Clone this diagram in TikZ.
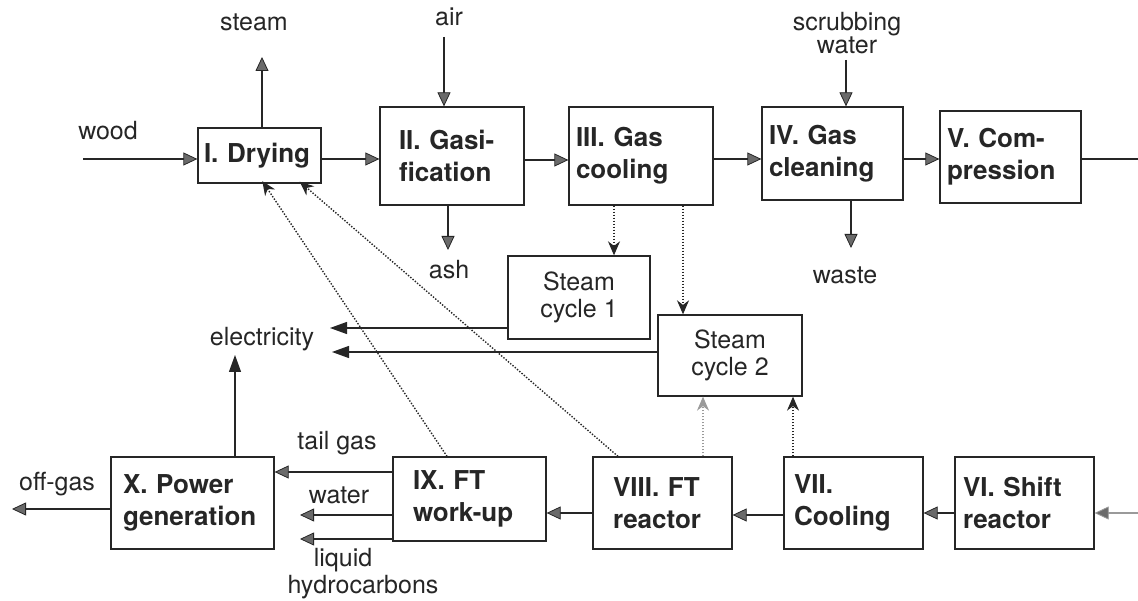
\documentclass[tikz,border=0pt]{standalone}
\usepackage{fontspec}
\setmainfont{TeX Gyre Heros}
\usetikzlibrary{arrows.meta}
\definecolor{ink}{HTML}{262626}
\definecolor{tipgray}{HTML}{6A6A6A}
\definecolor{lightline}{HTML}{9A9A9A}
\newcommand\bxf{\fontsize{26}{32}\selectfont\bfseries}
\newcommand\lbf{\fontsize{25}{27}\selectfont}
\begin{document}
\begin{tikzpicture}[x=1pt,y=-1pt,
 box/.style={draw=ink, line width=1.3pt, inner xsep=0pt, inner ysep=2pt, align=left, font=\bxf, text=ink},
 sc/.style={draw=ink, line width=1.3pt, align=center, font=\lbf, text=ink},
 lbl/.style={font=\lbf, text=ink, inner sep=0pt, align=center},
 flow/.style={draw=ink, line width=1.3pt, -{Triangle[length=14pt,width=13pt,fill=tipgray,line width=0.8pt]}},
 plain/.style={draw=ink, line width=1.3pt},
 elec/.style={draw=ink, line width=1.3pt, -{Triangle[length=17pt,width=12pt]}},
 heat/.style={draw=ink, line width=1.4pt, dash pattern=on 1.4pt off 1.6pt, -{Stealth[length=14pt,width=12pt]}},
]
\useasboundingbox (0,0) rectangle (1138,601);
\fill[white] (0,0) rectangle (1138,601);

% boxes
\node[box, minimum width=123pt, minimum height=55pt, text width=111pt] (dry) at (259.5,155.5) {I. Drying};
\node[box, minimum width=144pt, minimum height=98pt, text width=106pt] (gas) at (452,156) {II. Gasi-\\fication};
\node[box, minimum width=144pt, minimum height=98pt, text width=130pt] (cool) at (641,156) {III. Gas\\cooling};
\node[box, minimum width=141pt, minimum height=93pt, text width=127pt] (clean) at (832.5,153.5) {IV. Gas\\cleaning};
\node[box, minimum width=141pt, minimum height=92pt, text width=127pt] (comp) at (1010.5,157) {V. Com-\\pression};
\node[sc, minimum width=142pt, minimum height=83pt] (sc1) at (579,297.5) {Steam\\cycle 1};
\node[sc, minimum width=144pt, minimum height=81pt] (sc2) at (730,355.5) {Steam\\cycle 2};
\node[box, minimum width=153pt, minimum height=84pt, text width=113pt] (ftw) at (469.5,499) {IX. FT\\work-up};
\node[box, minimum width=139pt, minimum height=92pt, text width=99pt] (ftr) at (662.5,503) {VIII. FT\\reactor};
\node[box, minimum width=139pt, minimum height=92pt, text width=119pt] (cooling) at (853.5,503) {VII.\\Cooling};
\node[box, minimum width=139pt, minimum height=92pt, text width=123pt] (shift) at (1024.5,503) {VI. Shift\\reactor};
\node[box, minimum width=163pt, minimum height=92pt, text width=139pt] (power) at (192.5,503) {X. Power\\generation};

% labels
\node[lbl] (lsteam) at (254,22) {steam};
\node[lbl] (lwood) at (108,131) {wood};
\node[lbl] (lair) at (449,17) {air};
\node[lbl] (lash) at (449,270) {ash};
\node[lbl] (lscrub) at (847,33) {scrubbing\\[-4pt]water};
\node[lbl] (lwaste) at (845,275) {waste};
\node[lbl] (lelec) at (262,339) {electricity};
\node[lbl] (ltail) at (337,443) {tail gas};
\node[lbl] (lwater) at (339,495) {water};
\node[lbl] (lliq) at (343,560) {liquid};
\node[lbl] (lhydro) at (363,587) {hydrocarbons};
\node[lbl] (loff) at (57,484) {off-gas};

% free ends and rows
\coordinate (woodin) at (83,159);
\coordinate (steamout) at (262,57);
\coordinate (airin) at (444,37);
\coordinate (ashout) at (448,250);
\coordinate (scrubin) at (846,60);
\coordinate (wasteout) at (851,248);
\coordinate (rightout) at (1138,159);
\coordinate (rightin) at (1138,513);
\coordinate (elec1) at (330,328);
\coordinate (elec2) at (332,352);
\coordinate (elecup) at (235,355);
\coordinate (waterout) at (300,515);
\coordinate (liqout) at (300,539);
\coordinate (offout) at (12,509);
\coordinate (ra) at (0,159);
\coordinate (rb) at (0,160);
\coordinate (rt) at (0,472);
\coordinate (rm) at (0,513);
\coordinate (rm2) at (0,515);
\coordinate (rl) at (0,539);
\coordinate (ro) at (0,509);
\coordinate (s1y) at (0,328);
\coordinate (s2y) at (0,352);
\coordinate (h1) at (614,0);
\coordinate (h2) at (683,0);
\coordinate (h3) at (703,0);
\coordinate (h4) at (793,0);
\coordinate (d1) at (447,0);
\coordinate (d2) at (618,0);
\coordinate (e1) at (264,0);
\coordinate (e2) at (302,0);

% top flows
\draw[flow] (woodin) -- (woodin -| dry.west);
\draw[flow] (dry.north -| steamout) -- (steamout);
\draw[flow] (dry.east |- ra) -- (gas.west |- ra);
\draw[flow] (airin) -- (airin |- gas.north);
\draw[flow] (gas.south -| ashout) -- (ashout);
\draw[flow] (gas.east |- rb) -- (cool.west |- rb);
\draw[flow] (cool.east |- ra) -- (clean.west |- ra);
\draw[flow] (scrubin) -- (scrubin |- clean.north);
\draw[flow] (clean.south -| wasteout) -- (wasteout);
\draw[flow] (clean.east |- ra) -- (comp.west |- ra);
\draw[plain] (comp.east |- ra) -- (rightout);

% heat
\draw[heat] (cool.south -| h1) -- (sc1.north -| h1);
\draw[heat] (cool.south -| h2) -- (sc2.north -| h2);
\draw[heat, draw=lightline] (ftr.north -| h3) -- (sc2.south -| h3);
\draw[heat] (cooling.north -| h4) -- (sc2.south -| h4);
\draw[heat, shorten >=-3pt] (ftw.north -| d1) -- (dry.south -| e1);
\draw[heat, shorten >=-3pt] (ftr.north -| d2) -- (dry.south -| e2);

% electricity
\draw[elec] (sc1.west |- s1y) -- (elec1);
\draw[elec] (sc2.west |- s2y) -- (elec2);
\draw[elec] (power.north -| elecup) -- (elecup);

% bottom flows
\draw[flow, draw=lightline] (rightin) -- (shift.east |- rm);
\draw[flow] (shift.west |- rm) -- (cooling.east |- rm);
\draw[flow] (cooling.west |- rm2) -- (ftr.east |- rm2);
\draw[flow] (ftr.west |- rm) -- (ftw.east |- rm);
\draw[flow] (ftw.west |- rt) -- (power.east |- rt);
\draw[flow] (ftw.west |- rm2) -- (waterout);
\draw[flow] (ftw.west |- rl) -- (liqout);
\draw[flow] (power.west |- ro) -- (offout);
\end{tikzpicture}
\end{document}
